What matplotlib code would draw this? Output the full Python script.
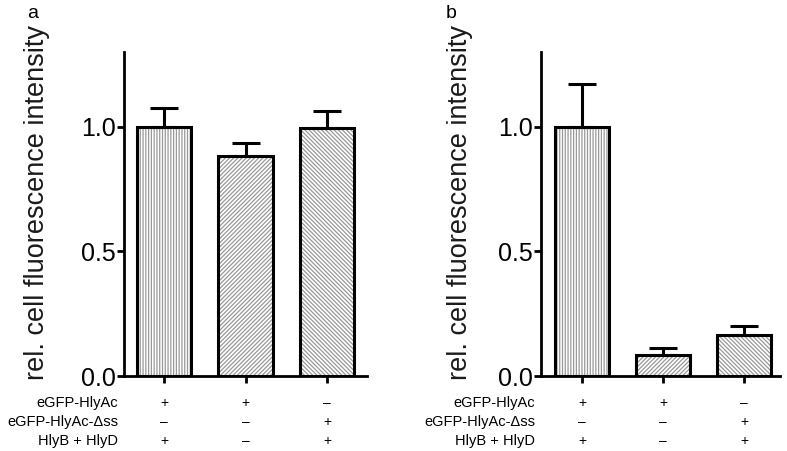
import matplotlib
matplotlib.use("Agg")
import matplotlib.pyplot as plt
import numpy as np

plt.rcParams['font.family'] = ['Liberation Sans', 'DejaVu Sans']
plt.rcParams['hatch.linewidth'] = 0.9

# data
conditions = ['eGFP-HlyAc', 'eGFP-HlyAc-\u0394ss', 'HlyB + HlyD']
signs = [['+', '+', '\u2013'],
         ['\u2013', '\u2013', '+'],
         ['+', '\u2013', '+']]
means_a = [1.0, 0.884, 0.996]
err_a = [0.076, 0.052, 0.068]
means_b = [1.0, 0.084, 0.165]
err_b = [0.17, 0.028, 0.035]
hatches = ['||||||', '////////', '\\\\\\\\\\\\\\\\']
yticks = [0.0, 0.5, 1.0]

fig = plt.figure(figsize=(7.87, 4.51), dpi=100)
ax_a = fig.add_axes([124 / 787, 1 - 376 / 451, 243 / 787, 324 / 451])
ax_b = fig.add_axes([541 / 787, 1 - 376 / 451, 239 / 787, 324 / 451])


def draw_panel(ax, means, errs, xlim, label_x):
    x = np.arange(len(means))
    w = 0.67
    for xi, m, h in zip(x, means, hatches):
        ax.bar(xi, m, w, color='white', edgecolor='#999999', hatch=h, linewidth=0)
        ax.bar(xi, m, w, fill=False, edgecolor='black', linewidth=2.2)
    ax.errorbar(x, means, yerr=[np.zeros(len(errs)), errs], fmt='none',
                ecolor='black', elinewidth=2.2, capsize=10, capthick=2.2)
    ax.set_ylim(0, 1.3)
    ax.set_xlim(*xlim)
    ax.set_yticks(yticks)
    ax.set_yticklabels(['%.1f' % t for t in yticks])
    ax.set_xticks(x)
    ax.set_xticklabels([])
    ax.spines['top'].set_visible(False)
    ax.spines['right'].set_visible(False)
    ax.spines['left'].set_linewidth(2)
    ax.spines['bottom'].set_linewidth(2)
    ax.tick_params(axis='y', length=5, width=2, labelsize=18, pad=1, colors='black')
    ax.tick_params(axis='x', length=5, width=2)
    ax.set_ylabel('rel. cell fluorescence intensity', fontsize=19.5, color='#1a1a1a')
    ax.yaxis.set_label_coords(label_x, 0.537)

    trans = ax.get_xaxis_transform()
    rows_y = [-0.083, -0.142, -0.201]
    for r, (name, ry) in enumerate(zip(conditions, rows_y)):
        ax.text(-0.025, ry, name, transform=ax.transAxes, ha='right', va='center',
                fontsize=10.5, clip_on=False)
        for xi, s in zip(x, signs[r]):
            ax.text(xi, ry, s, transform=trans, ha='center', va='center',
                    fontsize=10, clip_on=False)


draw_panel(ax_a, means_a, err_a, (-0.49, 2.49), -0.305)
draw_panel(ax_b, means_b, err_b, (-0.506, 2.44), -0.285)

fig.text(33 / 787, 1 - 13 / 451, 'a', fontsize=14, ha='center', va='center')
fig.text(451 / 787, 1 - 13 / 451, 'b', fontsize=14, ha='center', va='center')

fig.savefig('out.png', dpi=100)
